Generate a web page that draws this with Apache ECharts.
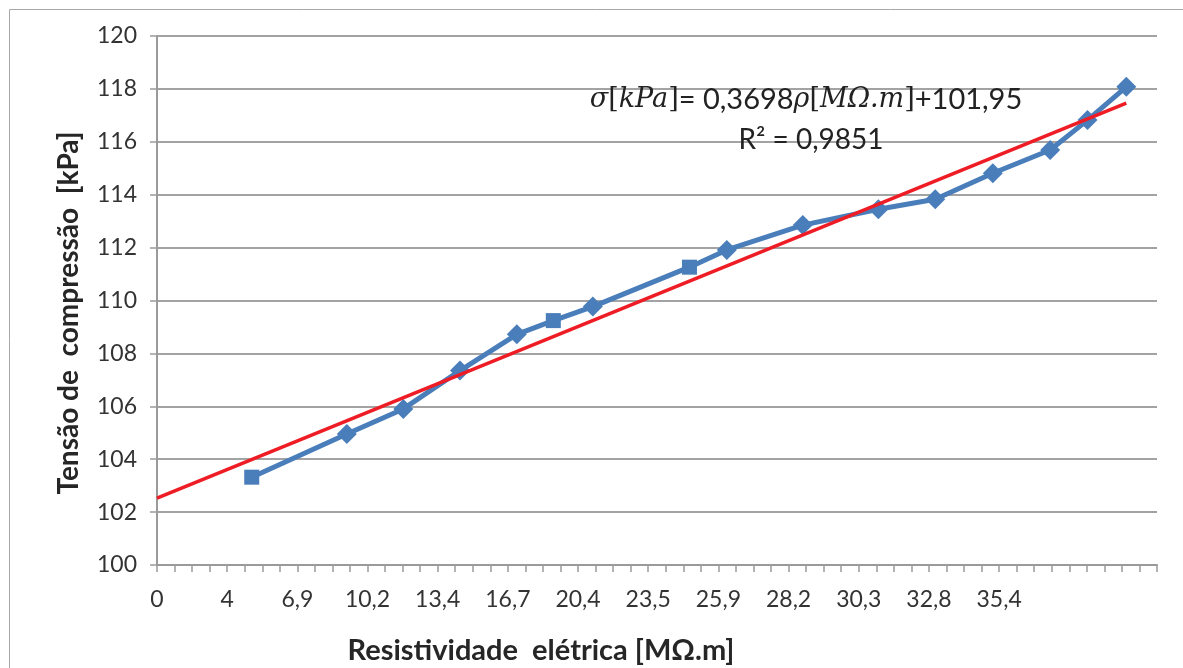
<!DOCTYPE html>
<html>
<head>
    <meta charset="UTF-8">
    <script src="https://cdn.jsdelivr.net/npm/echarts@6/dist/echarts.min.js"></script>
    <style>
        html, body { margin: 0; padding: 0; background: #fff; }
        #main { width: 1183px; height: 668px; }
    </style>
</head>
<body>
<div id="main"></div>
<script type="text/javascript">
    // tick labels shown under every 4th tick of the x axis
    var xTickLabels = ['0', '4', '6,9', '10,2', '13,4', '16,7', '20,4', '23,5', '25,9', '28,2', '30,3', '32,8', '35,4'];
    // point positions along the x axis, counted in ticks from the origin
    var pointPos = [5.40, 10.82, 14.04, 17.27, 20.51, 22.59, 24.84, 30.35, 32.48, 36.81, 41.12, 44.36, 47.64, 50.91, 53.04, 55.25];
    var tensao = [103.32, 104.95, 105.90, 107.35, 108.72, 109.24, 109.77, 111.26, 111.91, 112.85, 113.45, 113.83, 114.81, 115.69, 116.82, 118.08];
    var markerShape = ['rect', 'diamond', 'diamond', 'diamond', 'diamond', 'rect', 'diamond', 'rect',
        'diamond', 'diamond', 'diamond', 'diamond', 'diamond', 'diamond', 'diamond', 'diamond'];
    // linear trend line end points
    var trendPos = [0, 55.25];
    var trendVal = [102.53, 117.46];

    var myChart = echarts.init(document.getElementById('main'));

    var pontos = [];
    for (var i = 0; i < pointPos.length; i++) {
        pontos.push({
            value: [pointPos[i], tensao[i]],
            symbol: markerShape[i],
            symbolSize: markerShape[i] == 'rect' ? 15 : 20
        });
    }
    var tendencia = [];
    for (var j = 0; j < trendPos.length; j++) {
        tendencia.push([trendPos[j], trendVal[j]]);
    }

    var option = {
        animation: false,
        backgroundColor: '#fff',
        textStyle: { fontFamily: 'Lato' },
        grid: {
            left: 157,
            right: 26,
            top: 36,
            bottom: 103
        },
        xAxis: {
            type: 'value',
            min: 0,
            max: 57,
            interval: 1,
            splitLine: { show: false },
            axisLine: { lineStyle: { color: '#9a9a9a', width: 2 } },
            axisTick: { length: 7, lineStyle: { color: '#9a9a9a', width: 1.5 } },
            axisLabel: {
                margin: 23,
                fontSize: 23,
                color: '#333',
                formatter: function (v) {
                    if (v % 4 === 0 && xTickLabels[v / 4] !== undefined) {
                        return xTickLabels[v / 4];
                    }
                    return '';
                }
            }
        },
        yAxis: {
            type: 'value',
            min: 100,
            max: 120,
            interval: 2,
            axisLine: { show: true, lineStyle: { color: '#9a9a9a', width: 2 } },
            axisTick: { show: true, length: 7, lineStyle: { color: '#9a9a9a', width: 1.5 } },
            axisLabel: { margin: 20, fontSize: 23, color: '#333' },
            splitLine: { lineStyle: { color: '#a3a3a3', width: 2 } }
        },
        graphic: [
            {
                type: 'rect',
                silent: true,
                shape: { x: 9.5, y: 9.5, width: 1250, height: 720 },
                style: { fill: 'none', stroke: '#a8a8a8', lineWidth: 1 }
            },
            {
                type: 'text',
                x: 541,
                y: 651,
                style: {
                    text: 'Resistividade  elétrica [MΩ.m]',
                    font: 'bold 29px Lato',
                    fill: '#262626',
                    textAlign: 'center',
                    textVerticalAlign: 'middle'
                }
            },
            {
                type: 'text',
                x: 69,
                y: 313,
                rotation: Math.PI / 2,
                style: {
                    text: 'Tensão de  compressão  [kPa]',
                    font: 'bold 28px Lato',
                    fill: '#262626',
                    textAlign: 'center',
                    textVerticalAlign: 'middle'
                }
            },
            {
                type: 'text',
                x: 806,
                y: 100,
                z: 10,
                style: {
                    text: '{m|σ}{s|[}{m|kPa}{s|]}= 0,3698{m|ρ}{s|[}{m|MΩ.m}{s|]}+101,95',
                    font: '29px Lato',
                    fill: '#222',
                    textAlign: 'center',
                    textVerticalAlign: 'middle',
                    rich: {
                        m: { fontFamily: 'DejaVu Serif', fontStyle: 'italic', fontSize: 27, fill: '#222' },
                        s: { fontFamily: 'DejaVu Serif', fontSize: 27, fill: '#222' }
                    }
                }
            },
            {
                type: 'text',
                x: 811,
                y: 140,
                z: 10,
                style: {
                    text: 'R² = 0,9851',
                    font: '28px Lato',
                    fill: '#222',
                    textAlign: 'center',
                    textVerticalAlign: 'middle'
                }
            }
        ],
        series: [
            {
                name: 'Tensão',
                type: 'line',
                data: pontos,
                lineStyle: { color: '#4a7ebb', width: 5 },
                itemStyle: { color: '#4a7ebb' },
                z: 2
            },
            {
                name: 'Linear',
                type: 'line',
                data: tendencia,
                symbol: 'none',
                lineStyle: { color: '#ee1c24', width: 3.5 },
                z: 3
            }
        ]
    };
    myChart.setOption(option);
</script>
</body>
</html>
